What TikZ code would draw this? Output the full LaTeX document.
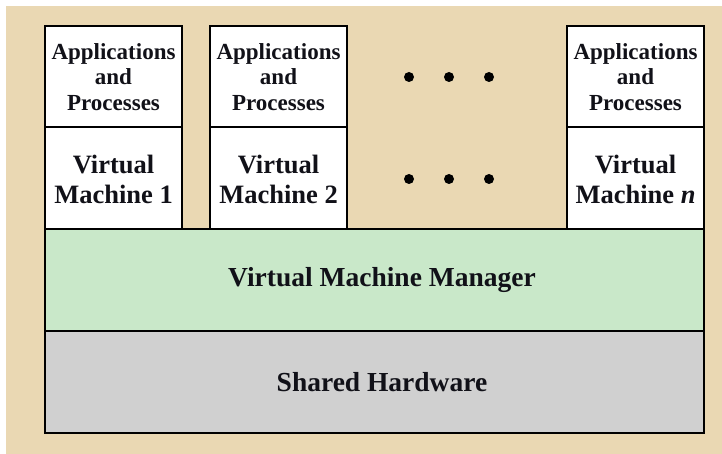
\documentclass[tikz,border=0pt]{standalone}
\usepackage{fontspec}
\setmainfont{Liberation Serif}
\definecolor{parchment}{HTML}{EAD8B3}
\definecolor{vmmgreen}{HTML}{C9E8C9}
\definecolor{hwgray}{HTML}{D0D0D0}
\definecolor{ink}{HTML}{111118}
\begin{document}
\begin{tikzpicture}[x=1pt,y=-1pt,
  frame/.style={draw=black,line width=2.6pt,line join=miter},
  applabel/.style={font=\fontsize{23}{25.5}\selectfont\bfseries,text=ink,align=center,inner sep=0pt},
  vmlabel/.style={font=\fontsize{26.5}{30}\selectfont\bfseries,text=ink,align=center,inner sep=0pt},
  layerlabel/.style={font=\fontsize{27.5}{31}\selectfont\bfseries,text=ink,inner sep=0pt},
  dot/.style={circle,fill=black,inner sep=0pt,minimum size=10pt}]
  % page and parchment backdrop
  \fill[white] (0,0) rectangle (722,454);
  \fill[parchment] (6,6) rectangle (722,454);
  \useasboundingbox (0,0) rectangle (722,454);

  % virtual machine columns
  \foreach \nm/\xl/\xr/\lbl in {vm1/45/182/{Machine 1}, vm2/210/347/{Machine 2}, vmn/567/704/{Machine \textit{n}}}{
    \draw[frame,fill=white] (\xl,26) rectangle (\xr,127);
    \draw[frame,fill=white] (\xl,127) rectangle (\xr,229);
    \node[applabel] (\nm-app) at ({(\xl+\xr)/2},77) {Applications\\and\\Processes};
    \node[vmlabel] (\nm-vm) at ({(\xl+\xr)/2},179) {Virtual\\\lbl};
  }

  % ellipsis between the columns
  \foreach \i/\x in {1/409,2/449,3/489}{
    \node[dot] (dtop\i) at (\x,77) {};
    \node[dot] (dbot\i) at (\x,179) {};
  }

  % hypervisor and hardware layers
  \draw[frame,fill=vmmgreen] (45,229) rectangle (704,331);
  \node[layerlabel] (vmm) at (382,280) {Virtual Machine Manager};
  \draw[frame,fill=hwgray] (45,331) rectangle (704,433);
  \node[layerlabel] (hw) at (382,382) {Shared Hardware};
\end{tikzpicture}
\end{document}
